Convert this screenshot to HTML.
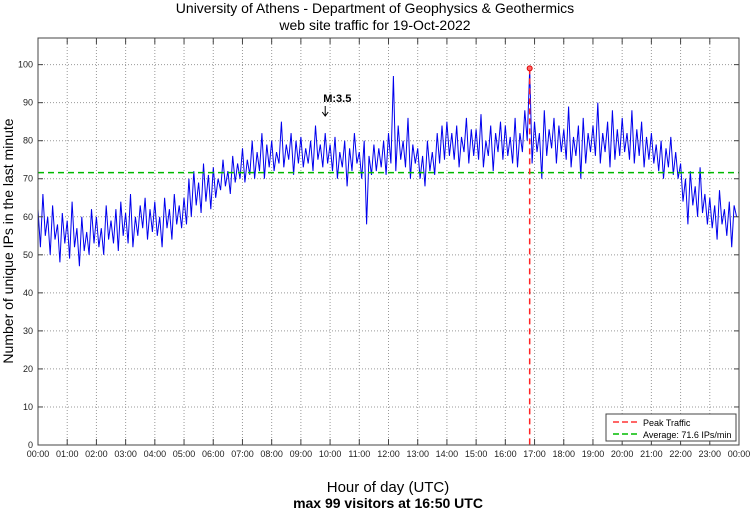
<!DOCTYPE html>
<html><head><meta charset="utf-8"><style>
body{margin:0;background:#fff;font-family:"Liberation Sans",sans-serif}
</style></head><body>
<svg id="c" width="750" height="511" xmlns="http://www.w3.org/2000/svg" font-family="Liberation Sans, sans-serif">
<text x="375" y="13" text-anchor="middle" font-size="14">University of Athens - Department of Geophysics &amp; Geothermics</text>
<text x="375" y="30" text-anchor="middle" font-size="14">web site traffic for 19-Oct-2022</text>
<text transform="translate(13,241) rotate(-90)" text-anchor="middle" font-size="14">Number of unique IPs in the last minute</text>
<text x="388" y="492" text-anchor="middle" font-size="15">Hour of day (UTC)</text>
<text x="388" y="508" text-anchor="middle" font-size="14" font-weight="bold">max 99 visitors at 16:50 UTC</text>
<g id="grid"></g><g id="series"></g><g id="frame"></g>
</svg>
<script>
const yTicks=[0,10,20,30,40,50,60,70,80,90,100];
const xTickLabels=["00:00","01:00","02:00","03:00","04:00","05:00","06:00","07:00","08:00","09:00","10:00","11:00","12:00","13:00","14:00","15:00","16:00","17:00","18:00","19:00","20:00","21:00","22:00","23:00","00:00"];
const traffic=[
62,52,66,55,60,50,63,54,58,48,61,53,
59,49,64,52,57,47,60,51,56,50,62,53,
60,52,57,50,63,54,59,53,62,51,64,55,
61,53,66,52,60,55,63,57,65,54,62,56,
64,55,60,52,65,57,62,54,66,58,63,57,
65,58,70,60,72,63,69,61,74,64,71,62,
73,65,70,67,75,68,72,66,76,69,74,70,
78,69,75,71,80,70,77,72,82,70,79,73,
80,72,77,74,85,73,79,75,82,71,80,74,
81,73,78,74,80,72,84,75,79,73,82,74,
79,72,81,70,77,73,80,68,78,72,82,74,
77,70,80,58,76,71,79,72,78,73,80,71,
82,74,97,72,84,75,80,73,86,70,79,74,
78,70,76,68,80,72,77,71,82,74,84,75,
85,76,82,75,84,73,81,77,86,74,83,76,
83,75,87,73,80,76,84,72,82,77,85,75,
84,76,81,74,86,73,82,77,88,80,99,74,
85,77,82,70,88,76,83,78,86,74,84,77,
83,75,89,73,81,76,84,70,86,74,82,77,
84,76,90,74,82,77,85,73,88,75,83,76,
86,77,82,75,88,74,83,76,85,73,81,75,
82,74,79,72,80,70,78,73,81,71,77,70,
74,64,70,58,72,63,68,60,73,61,66,58,
65,57,63,54,67,58,62,55,64,52,63,60];
const averageValue=[71.6];
const peakHour=[16+50/60];
const peakValue=[99];
const quakeHour=[9+50/60];
const quakeLabel=["M:3.5"];

const L=38,R=739,T=38,B=445,yMax=107;
const X=h=>L+(R-L)*h/24;
const Y=v=>B-(B-T)*v/yMax;
const NS="http://www.w3.org/2000/svg";
function mk(tag,parent,attrs){const e=document.createElementNS(NS,tag);for(const k in attrs)e.setAttribute(k,attrs[k]);parent.appendChild(e);return e;}
const grid=document.getElementById('grid'),series=document.getElementById('series'),frame=document.getElementById('frame');

yTicks.forEach(v=>{
  const g=mk('line',grid,{x1:L,x2:R,y1:Y(v),y2:Y(v),stroke:'#999','stroke-dasharray':'1,2','stroke-width':1});
  
  
  mk('line',frame,{x1:L,x2:L+5,y1:Y(v),y2:Y(v),stroke:'#444'});
  mk('line',frame,{x1:R-5,x2:R,y1:Y(v),y2:Y(v),stroke:'#444'});
  const t=mk('text',frame,{x:L-5,y:Y(v)+3,'text-anchor':'end','font-size':9,fill:'#222'});
  t.textContent=v;
  
  
});
xTickLabels.forEach((lab,i)=>{
  const x=X(i);
  const g=mk('line',grid,{x1:x,x2:x,y1:T,y2:B,stroke:'#999','stroke-dasharray':'1,2','stroke-width':1});
  
  
  mk('line',frame,{x1:x,x2:x,y1:B,y2:B-6,stroke:'#444'});
  mk('line',frame,{x1:x,x2:x,y1:T,y2:T+6,stroke:'#444'});
  const t=mk('text',frame,{x:x,y:B+12,'text-anchor':'middle','font-size':9,fill:'#222'});
  t.textContent=lab;
  
  
});
const fr=mk('rect',frame,{x:L,y:T,width:R-L,height:B-T,fill:'none',stroke:'#444'});



const n=traffic.length;
const pts=traffic.map((v,i)=>X(24*i/n).toFixed(1)+','+Y(v).toFixed(1)).join(' ');
const line=mk('polyline',series,{points:pts,fill:'none',stroke:'#0000ee','stroke-width':1});



const avg=mk('line',series,{x1:L,x2:R,y1:Y(averageValue[0]),y2:Y(averageValue[0]),stroke:'#00bb00','stroke-width':1.5,'stroke-dasharray':'6,4'});



const pk=mk('line',series,{x1:X(peakHour[0]),x2:X(peakHour[0]),y1:Y(peakValue[0]),y2:B,stroke:'#ff2222','stroke-width':1.5,'stroke-dasharray':'6,4'});


const pd=mk('circle',series,{cx:X(peakHour[0]),cy:Y(peakValue[0]),r:2.5,fill:'#ff6666',stroke:'#dd0000'});



const qt=mk('text',series,{x:X(quakeHour[0])-2,y:102,'font-size':11,'font-weight':'bold','text-anchor':'start'});
qt.textContent=quakeLabel[0];


const qa=mk('path',series,{d:`M${X(quakeHour[0])},106 V116 M${X(quakeHour[0])-3},112 L${X(quakeHour[0])},116 L${X(quakeHour[0])+3},112`,fill:'none',stroke:'#000','stroke-width':1});



const lg=mk('g',frame,{});


mk('rect',lg,{x:606,y:414,width:130,height:27,fill:'#fff',stroke:'#444'});
mk('line',lg,{x1:613,x2:637,y1:422,y2:422,stroke:'#ff3333','stroke-width':1.5,'stroke-dasharray':'6,3'});
mk('line',lg,{x1:613,x2:637,y1:434,y2:434,stroke:'#00bb00','stroke-width':1.5,'stroke-dasharray':'6,3'});
const l1=mk('text',lg,{x:643,y:426,'font-size':9});l1.textContent='Peak Traffic';


const l2=mk('text',lg,{x:643,y:438,'font-size':9});l2.textContent='Average: 71.6 IPs/min';


</script>
</body></html>
